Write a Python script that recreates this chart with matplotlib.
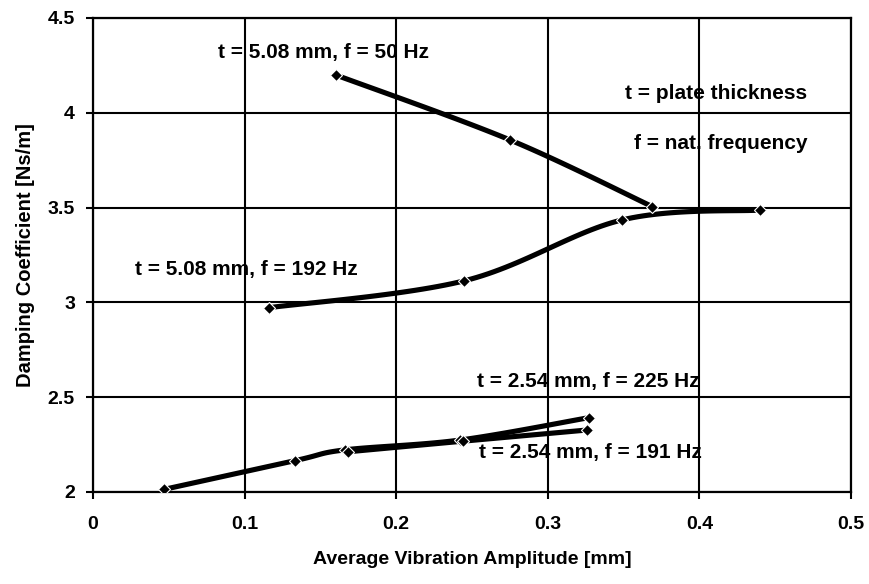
import numpy as np
import matplotlib
matplotlib.use("Agg")
import matplotlib.pyplot as plt

plt.rcParams['font.family'] = ['Liberation Sans', 'DejaVu Sans']
plt.rcParams['font.weight'] = 'bold'

# data
x_50 = [0.160, 0.275, 0.369]
y_50 = [4.200, 3.857, 3.505]
x_192 = [0.116, 0.245, 0.349, 0.440]
y_192 = [2.972, 3.114, 3.435, 3.487]
x_225 = [0.047, 0.133, 0.166, 0.242, 0.327]
y_225 = [2.014, 2.165, 2.222, 2.274, 2.392]
x_191 = [0.168, 0.244, 0.326]
y_191 = [2.212, 2.268, 2.327]

x_ticks = [0, 0.1, 0.2, 0.3, 0.4, 0.5]
x_tick_labels = ['0', '0.1', '0.2', '0.3', '0.4', '0.5']
y_ticks = [2, 2.5, 3, 3.5, 4, 4.5]
y_tick_labels = ['2', '2.5', '3', '3.5', '4', '4.5']


def smooth(xs, ys, n=30):
    """Smoothed path through the data points (like a spreadsheet 'smoothed line')."""
    xs = np.asarray(xs, float); ys = np.asarray(ys, float)
    if len(xs) < 3:
        return xs, ys
    px = np.concatenate([[xs[0]], xs, [xs[-1]]])
    py = np.concatenate([[ys[0]], ys, [ys[-1]]])
    ox, oy = [], []
    t = np.linspace(0, 1, n)
    for i in range(1, len(px) - 2):
        p0x, p1x, p2x, p3x = px[i-1], px[i], px[i+1], px[i+2]
        p0y, p1y, p2y, p3y = py[i-1], py[i], py[i+1], py[i+2]
        c1x = p1x + (p2x - p0x) / 6; c1y = p1y + (p2y - p0y) / 6
        c2x = p2x - (p3x - p1x) / 6; c2y = p2y - (p3y - p1y) / 6
        bx = (1-t)**3*p1x + 3*(1-t)**2*t*c1x + 3*(1-t)*t**2*c2x + t**3*p2x
        by = (1-t)**3*p1y + 3*(1-t)**2*t*c1y + 3*(1-t)*t**2*c2y + t**3*p2y
        ox.extend(bx); oy.extend(by)
    return np.array(ox), np.array(oy)


fig = plt.figure(figsize=(8.69, 5.84), dpi=100)
ax = fig.add_axes([93/869, 1-492/584, (851-93)/869, (492-18)/584])

for xs, ys in [(x_50, y_50), (x_192, y_192), (x_225, y_225), (x_191, y_191)]:
    sx, sy = smooth(xs, ys)
    ax.plot(sx, sy, color='black', lw=3.7, solid_capstyle='round', zorder=3)
    ax.plot(xs, ys, linestyle='none', marker='D', ms=5.8, color='black',
            markeredgecolor='white', markeredgewidth=0.8, zorder=4)

ax.set_xlim(0, 0.5)
ax.set_ylim(2, 4.5)
ax.set_xticks(x_ticks)
ax.set_xticklabels(x_tick_labels)
ax.set_yticks(y_ticks)
ax.set_yticklabels(y_tick_labels)
ax.grid(True, color='black', lw=1.5)
ax.set_axisbelow(True)
for s in ax.spines.values():
    s.set_color('black'); s.set_linewidth(1.6)
ax.tick_params(axis='both', direction='out', length=5, width=1.5, colors='black', labelsize=14)
ax.tick_params(axis='x', pad=12)
ax.tick_params(axis='y', pad=8)

ax.set_xlabel('Average Vibration Amplitude [mm]', fontsize=14, fontweight='bold', labelpad=13)
ax.set_ylabel('Damping Coefficient [Ns/m]', fontsize=14.5, fontweight='bold', labelpad=9)

fs = 15
ax.text(0.0825, 4.32, 't = 5.08 mm, f = 50 Hz', fontsize=fs, fontweight='bold', ha='left', va='center')
ax.text(0.471, 4.10, 't = plate thickness', fontsize=fs, fontweight='bold', ha='right', va='center')
ax.text(0.471, 3.84, 'f = nat. frequency', fontsize=fs, fontweight='bold', ha='right', va='center')
ax.text(0.0277, 3.171, 't = 5.08 mm, f = 192 Hz', fontsize=fs, fontweight='bold', ha='left', va='center')
ax.text(0.4004, 2.585, 't = 2.54 mm, f = 225 Hz', fontsize=fs, fontweight='bold', ha='right', va='center')
ax.text(0.4017, 2.206, 't = 2.54 mm, f = 191 Hz', fontsize=fs, fontweight='bold', ha='right', va='center')

fig.savefig('out.png', dpi=100)
